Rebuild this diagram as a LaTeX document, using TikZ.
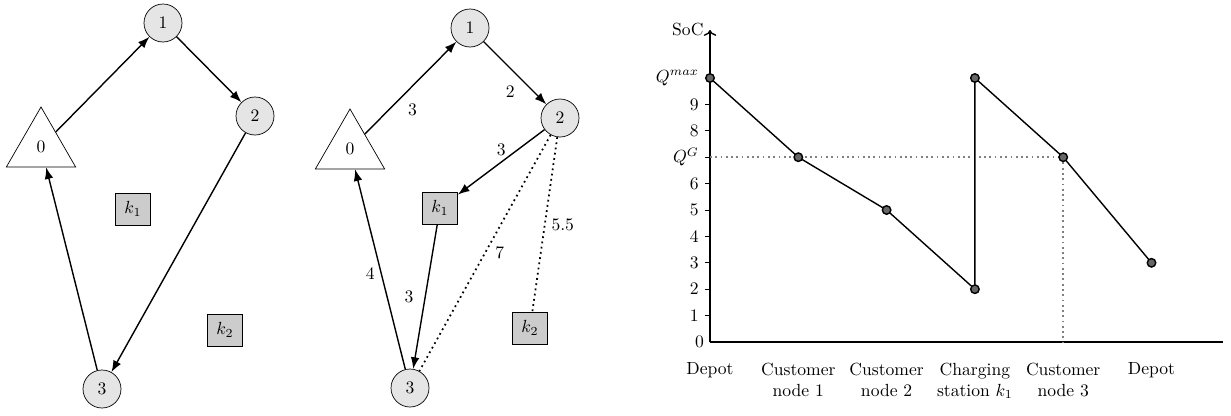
\documentclass[tikz,border=0pt]{standalone}
\usetikzlibrary{arrows.meta,shapes.geometric}

\begin{document}
\begin{tikzpicture}[>=Latex,
  cust/.style={circle, draw, fill=gray!20, minimum size=0.76cm, inner sep=0pt},
  depot/.style={regular polygon, regular polygon sides=3, draw, minimum size=1.6cm, inner sep=0pt},
  stat/.style={rectangle, draw, fill=gray!40, minimum width=0.7cm, minimum height=0.64cm, inner sep=0pt},
  arc/.style={->, thick},
  alt/.style={line width=1pt, dotted},
  pt/.style={circle, draw, thick, fill=black!60, inner sep=0pt, minimum size=0.17cm}]
\useasboundingbox (0,0) rectangle (24.62,8.30);

% route without charging
\node[depot] (a0) at (0.82,5.36) {0};
\node[cust] (a1) at (3.26,7.84) {1};
\node[cust] (a2) at (5.10,5.98) {2};
\node[cust] (a3) at (2.04,0.52) {3};
\node[stat] (ak1) at (2.66,4.12) {$k_1$};
\node[stat] (ak2) at (4.50,1.70) {$k_2$};
\draw[arc] (a0) -- (a1);
\draw[arc] (a1) -- (a2);
\draw[arc] (a2) -- (a3);
\draw[arc] (a3) -- (a0);

% route with charging station inserted
\node[depot] (b0) at (7.00,5.32) {0};
\node[cust] (b1) at (9.40,7.74) {1};
\node[cust] (b2) at (11.20,5.94) {2};
\node[cust] (b3) at (8.20,0.54) {3};
\node[stat] (bk1) at (8.80,4.14) {$k_1$};
\node[stat] (bk2) at (10.60,1.74) {$k_2$};
\draw[arc] (b0) -- node[pos=0.4, below right] {3} (b1);
\draw[arc] (b1) -- node[pos=0.6, below left] {2} (b2);
\draw[arc] (b2) -- node[midway, above] {3} (bk1);
\draw[arc] (bk1) -- node[midway, left=3pt] {3} (b3);
\draw[arc] (b3) -- node[pos=0.48, left] {4} (b0);
\draw[alt] (b2) -- node[midway, right=2pt] {7} (b3);
\draw[alt] (b2) -- node[midway, right] {5.5} (bk2);

% state of charge along the route
\begin{scope}[shift={(14.20,1.46)}, x=1.766cm, y=0.528cm]
\draw[thick] (0,0) -- (5.81,0);
\draw[thick, -{To}] (0,0) -- (0,11.82) node[left] (soc) {SoC};
\node[left] (z0) at (0,0) {$0$};
\foreach \v in {1,...,6,8,9}
  \draw (0,\v) -- (-0.057,\v) node[left] {$\v$};
\draw (0,7) -- (-0.057,7) node[left] (qg) {$Q^G$};
\draw (0,10) -- (-0.057,10) node[left] (qmax) {$Q^{max}$};
\foreach \x/\txt in {0/Depot, 1/Customer\\node 1, 2/Customer\\node 2,
    3/Charging\\station $k_1$, 4/Customer\\node 3, 5/Depot}
  \node[anchor=north, align=center] at (\x,-0.55) {\txt};
\coordinate (c0) at (0,10);
\coordinate (c1) at (1,7);
\coordinate (c2) at (2,5);
\coordinate (c3) at (3,2);
\coordinate (c4) at (3,10);
\coordinate (c5) at (4,7);
\coordinate (c6) at (5,3);
\draw[alt, gray] (0,7) -- (c5) -- (4,0);
\draw[thick] (c0) -- (c1) -- (c2) -- (c3) -- (c4) -- (c5) -- (c6);
\foreach \i in {0,...,6} \node[pt] (d\i) at (c\i) {};
\end{scope}
\end{tikzpicture}
\end{document}
